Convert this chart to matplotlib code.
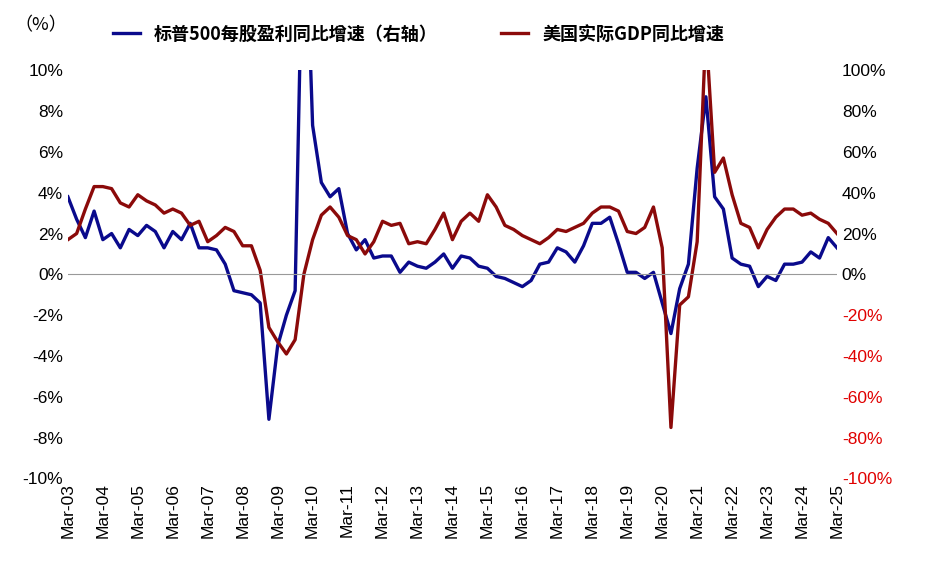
import matplotlib.pyplot as plt
import matplotlib.ticker as mticker
from matplotlib import font_manager

cjk = sorted(set(f.name for f in font_manager.fontManager.ttflist if 'CJK' in f.name))
sans = [n for n in cjk if 'Sans' in n]
cjk_name = ('Noto Sans CJK SC' if 'Noto Sans CJK SC' in cjk else
            (sans[0] if sans else (cjk[0] if cjk else 'DejaVu Sans')))
plt.rcParams['font.family'] = 'sans-serif'
plt.rcParams['font.sans-serif'] = [cjk_name, 'Liberation Sans']

# quarterly, Mar-03 .. Mar-25
gdp = [1.7, 2.0, 3.2, 4.3, 4.3, 4.2, 3.5, 3.3, 3.9, 3.6, 3.4, 3.0,
       3.2, 3.0, 2.4, 2.6, 1.6, 1.9, 2.3, 2.1, 1.4, 1.4, 0.2, -2.6,
       -3.3, -3.9, -3.2, 0.0, 1.7, 2.9, 3.3, 2.8, 1.9, 1.7, 1.0, 1.6,
       2.6, 2.4, 2.5, 1.5, 1.6, 1.5, 2.2, 3.0, 1.7, 2.6, 3.0, 2.6,
       3.9, 3.3, 2.4, 2.2, 1.9, 1.7, 1.5, 1.8, 2.2, 2.1, 2.3, 2.5,
       3.0, 3.3, 3.3, 3.1, 2.1, 2.0, 2.3, 3.3, 1.3, -7.5, -1.5, -1.1,
       1.6, 12.0, 5.0, 5.7, 3.9, 2.5, 2.3, 1.3, 2.2, 2.8, 3.2, 3.2,
       2.9, 3.0, 2.7, 2.5, 2.0]
eps = [38, 27, 18, 31, 17, 20, 13, 22, 19, 24, 21, 13,
       21, 17, 25, 13, 13, 12, 5, -8, -9, -10, -14, -71,
       -35, -20, -8, 200, 73, 45, 38, 42, 20, 12, 17, 8,
       9, 9, 1, 6, 4, 3, 6, 10, 3, 9, 8, 4,
       3, -1, -2, -4, -6, -3, 5, 6, 13, 11, 6, 14,
       25, 25, 28, 15, 1, 1, -2, 1, -14, -29, -7, 5,
       52, 87, 38, 32, 8, 5, 4, -6, -1, -3, 5, 5,
       6, 11, 8, 18, 13]
years = list(range(3, 26))
xlabels = ['Mar-%02d' % y for y in years]

x = list(range(len(gdp)))
fig, ax = plt.subplots(figsize=(9.3, 5.71), dpi=100)
fig.subplots_adjust(left=0.073, right=0.9, top=0.877, bottom=0.162)
ax2 = ax.twinx()

l1, = ax2.plot(x, eps, color='#0a0a8c', lw=2.4, label='标普500每股盈利同比增速（右轴）')
l2, = ax.plot(x, gdp, color='#8b0a0a', lw=2.4, label='美国实际GDP同比增速')
ax.set_zorder(ax2.get_zorder() + 1)
ax.patch.set_visible(False)

ax.set_ylim(-10, 10)
ax2.set_ylim(-100, 100)
ax.set_xlim(0, len(gdp) - 1)
ax.set_yticks(range(-10, 11, 2))
ax2.set_yticks(range(-100, 101, 20))
ax.yaxis.set_major_formatter(mticker.FuncFormatter(lambda v, p: '%d%%' % v))
ax2.yaxis.set_major_formatter(mticker.FuncFormatter(lambda v, p: '%d%%' % v))
for t, v in zip(ax2.get_yticklabels(), range(-100, 101, 20)):
    t.set_color('#e00000' if v < 0 else 'black')
ax.set_xticks(range(0, len(gdp), 4))
ax.set_xticklabels(xlabels, rotation=90)
for a in (ax, ax2):
    a.tick_params(labelsize=12.5, length=0)
    for t in a.get_xticklabels() + a.get_yticklabels():
        t.set_fontfamily('Liberation Sans')
    for s in a.spines.values():
        s.set_visible(False)
ax.axhline(0, color='#999999', lw=0.8)

fig.text(0.015, 0.955, '（%）', fontsize=13, va='center')
fig.legend(handles=[l1, l2], loc='upper center', bbox_to_anchor=(0.45, 0.985), ncol=2,
           frameon=False, prop={'size': 13, 'weight': 'bold'},
           handlelength=1.5, columnspacing=3.5)

fig.savefig('out.png')
